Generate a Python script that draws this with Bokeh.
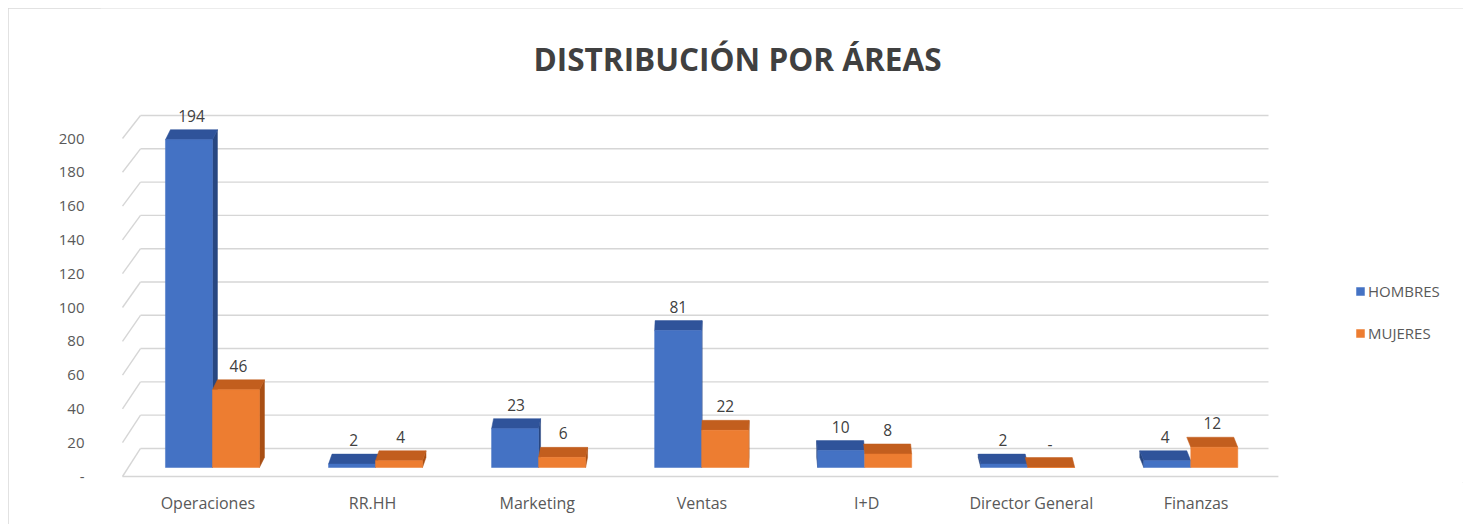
import numpy as np
from bokeh.plotting import figure
from bokeh.models import Range1d, FixedTicker, Legend, LegendItem
from bokeh.core.properties import value
from bokeh.embed import file_html
from bokeh.resources import INLINE

# ---------------- data ----------------
TITLE = "DISTRIBUCIÓN POR ÁREAS"
categories = ["Operaciones", "RR.HH", "Marketing", "Ventas", "I+D", "Director General", "Finanzas"]
series_names = ["HOMBRES", "MUJERES"]
hombres = [194, 2, 23, 81, 10, 2, 4]
mujeres = [46, 4, 6, 22, 8, 0, 12]
y_ticks = [0, 20, 40, 60, 80, 100, 120, 140, 160, 180, 200]
y_tick_labels = ["-", "20", "40", "60", "80", "100", "120", "140", "160", "180", "200"]

# ---------------- styles / geometry ----------------
W, H = 1455, 516
PX_X = 164.7   # pixels per category on the front plane
PX_Y = 1.69    # pixels per unit on the front plane
FONT = value("Open Sans")
TXT = "#595959"
GRID = "#d6d6d6"
FRONT = ["#4472C4", "#ED7D31"]
TOP = ["#2F539A", "#C25E1E"]
SIDE = ["#284781", "#A94F14"]

X0 = -0.5 + (100 - 125) / PX_X
X1 = -0.5 + (1463 - 125) / PX_X
Y0 = (476 - 482) / PX_Y
Y1 = (476 - 8) / PX_Y

p = figure(width=W, height=H, output_backend="svg", toolbar_location=None,
           x_range=Range1d(X0, X1), y_range=Range1d(Y0, Y1),
           min_border_left=92, min_border_right=0, min_border_top=0, min_border_bottom=42)
p.outline_line_color = None
p.xgrid.visible = False
p.ygrid.visible = False
p.background_fill_color = "white"
p.border_fill_color = "white"
p.styles = {"outline": "1px solid #d9d9d9", "outline-offset": "-1px",
            "margin-left": "8px", "margin-top": "8px"}

# axes
p.yaxis.ticker = FixedTicker(ticks=y_ticks)
p.yaxis.major_label_overrides = {t: l for t, l in zip(y_ticks, y_tick_labels)}
p.xaxis.ticker = FixedTicker(ticks=list(range(len(categories))))
p.xaxis.major_label_overrides = {i: c for i, c in enumerate(categories)}
for ax in (p.xaxis[0], p.yaxis[0]):
    ax.axis_line_color = None
    ax.major_tick_line_color = None
    ax.minor_tick_line_color = None
    ax.major_label_text_font = "Open Sans"
    ax.major_label_text_color = TXT
p.yaxis.major_label_text_font_size = "15px"
p.yaxis.major_label_standoff = 10
p.xaxis.major_label_text_font_size = "16px"
p.xaxis.major_label_standoff = 3

# 3D-like walls: back wall gridlines, left diagonals, front floor edge
back_left = -0.5 + 15 / PX_X
back_right = -0.5 + 1143 / PX_X
front_left = -0.5 - 3 / PX_X
back_y = [16.6 + 0.985 * t for t in y_ticks]
p.segment(x0=[back_left] * len(y_ticks), y0=back_y, x1=[back_right] * len(y_ticks), y1=back_y,
          line_color=GRID, line_width=1.4)
p.segment(x0=[front_left] * len(y_ticks), y0=y_ticks, x1=[back_left] * len(y_ticks), y1=back_y,
          line_color=GRID, line_width=1.4)
p.segment(x0=[front_left], y0=[0], x1=[6.5], y1=[0], line_color=GRID, line_width=1.4)

# bars
n = len(categories)
idx = np.arange(n)
center = idx * 0.99 + 0.028
bw = 47 / PX_X
base = 9 / PX_Y
dxs = (5 - 1.5 * idx) / PX_X
dy = 10 / PX_Y

front_renderers = []
for s, vals in enumerate([hombres, mujeres]):
    v = np.array(vals, dtype=float)
    x0 = center - bw + s * bw
    x1 = x0 + bw
    yb = np.full(n, base)
    yt = base + v
    # side faces
    sxs, sys = [], []
    for i in range(n):
        d = dxs[i]
        if d > 0:
            sxs.append([x1[i], x1[i], x1[i] + d, x1[i] + d])
            sys.append([yb[i], yt[i], yt[i] + dy, yb[i] + dy])
        elif d < 0 and s == 0:
            sxs.append([x0[i], x0[i], x0[i] + d, x0[i] + d])
            sys.append([yb[i], yt[i], yt[i] + dy, yb[i] + dy])
    if sxs:
        p.patches(xs=sxs, ys=sys, fill_color=SIDE[s], line_color=SIDE[s], line_width=0.5)
    # top faces
    txs = [[x0[i], x1[i], x1[i] + dxs[i], x0[i] + dxs[i]] for i in range(n)]
    tys = [[yt[i], yt[i], yt[i] + dy, yt[i] + dy] for i in range(n)]
    p.patches(xs=txs, ys=tys, fill_color=TOP[s], line_color=TOP[s], line_width=0.5)
    # front faces
    r = p.quad(left=x0, right=x1, bottom=yb, top=yt, fill_color=FRONT[s], line_color=FRONT[s],
               line_width=0.5)
    front_renderers.append(r)
    # value labels
    labels = ["-" if val == 0 else str(int(val)) for val in vals]
    p.text(x=(x0 + x1) / 2 + dxs / 2, y=yt + dy + 8 / PX_Y, text=labels,
           text_font=FONT, text_font_size="15.5px", text_color="#404040",
           text_align="center", text_baseline="bottom")

# title
p.text(x=[-0.5 + (737 - 125) / PX_X], y=[(476 - 58) / PX_Y], text=[TITLE],
       text_font=FONT, text_font_style="bold", text_font_size="31.5px", text_color="#404040",
       text_align="center", text_baseline="middle")

# legend
legend = Legend(items=[LegendItem(label=series_names[i], renderers=[front_renderers[i]]) for i in range(2)],
                location=(1255, 139), orientation="vertical",
                glyph_width=10, glyph_height=10, label_height=20, spacing=22,
                label_standoff=3, padding=0, margin=0,
                border_line_color=None, background_fill_alpha=0,
                label_text_font="Open Sans", label_text_font_size="15px", label_text_color=TXT)
p.add_layout(legend)

open("out.html", "w").write(file_html(p, INLINE))
